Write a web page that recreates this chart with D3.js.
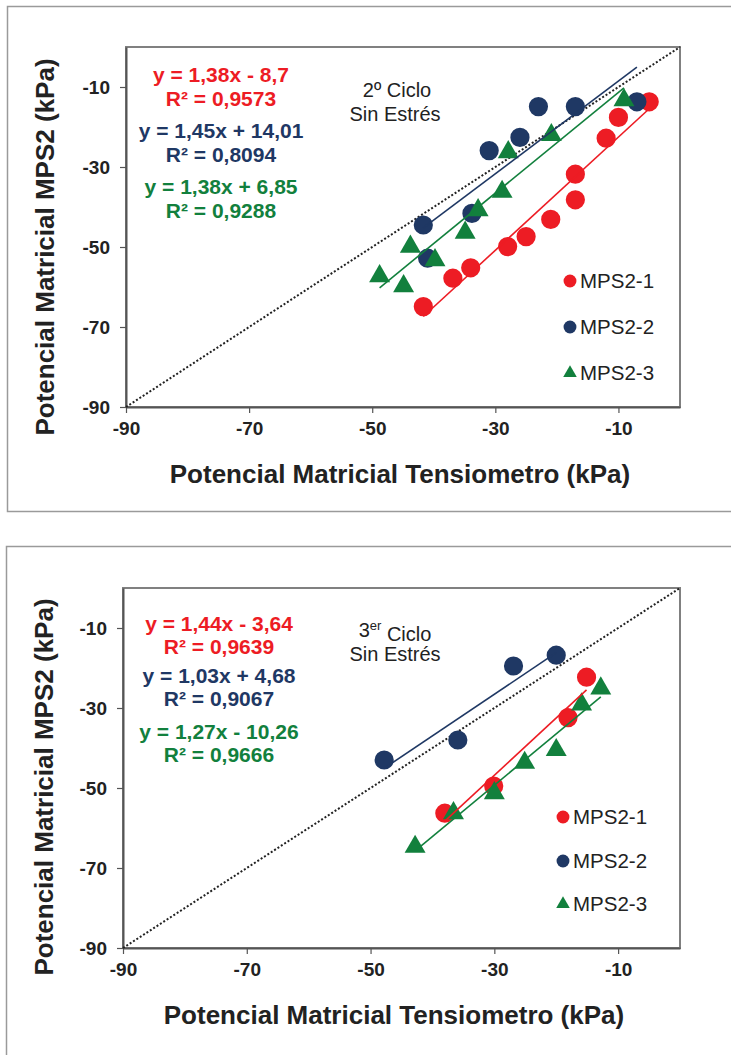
<!DOCTYPE html>
<html><head><meta charset="utf-8">
<script src="https://cdn.jsdelivr.net/npm/d3@7"></script>
<style>
body{margin:0;background:#fff;}
svg{display:block;font-family:"Liberation Sans",Arial,sans-serif;}
</style>
</head><body>
<svg id="chart" width="731" height="1055"></svg>
<script>
// ---------- data ----------
const axisTicks = [-90, -70, -50, -30, -10];
const seriesNames = ["MPS2-1", "MPS2-2", "MPS2-3"];
const seriesColors = ["#ed1c24", "#1f3864", "#12803d"];
const seriesShapes = ["circle", "circle", "triangle"];
const xTitle = "Potencial Matricial Tensiometro (kPa)";
const yTitle = "Potencial Matricial MPS2 (kPa)";

// 2º Ciclo Sin Estrés
const c2_x1 = [-5.0, -10.0, -12.0, -17.0, -17.0, -21.0, -25.0, -28.0, -34.0, -36.9, -41.7];
const c2_y1 = [-13.7, -17.6, -22.8, -31.8, -38.2, -43.1, -47.4, -49.9, -55.2, -57.8, -64.9];
const c2_x2 = [-7.0, -17.0, -23.0, -26.0, -31.0, -33.8, -41.7, -41.0];
const c2_y2 = [-13.7, -14.9, -14.9, -22.6, -25.9, -41.6, -44.5, -52.8];
const c2_x3 = [-9.1, -20.9, -27.9, -28.9, -32.8, -34.9, -43.8, -39.8, -48.8, -44.9];
const c2_y3 = [-13.3, -22.0, -26.3, -36.2, -40.8, -46.4, -49.9, -53.3, -57.3, -59.8];
const c2_eq = ["y = 1,38x - 8,7", "y = 1,45x + 14,01", "y = 1,38x + 6,85"];
const c2_r2 = ["R² = 0,9573", "R² = 0,8094", "R² = 0,9288"];
const c2_label = ["2º Ciclo", "", "Sin Estrés"];

// 3er Ciclo Sin Estrés
const c3_x1 = [-15.1, -18.1, -30.1, -38.0];
const c3_y1 = [-22.3, -32.4, -49.5, -56.3];
const c3_x2 = [-20.0, -26.9, -35.9, -47.8];
const c3_y2 = [-16.8, -19.5, -38.0, -43.0];
const c3_x3 = [-12.8, -15.9, -20.0, -25.1, -30.0, -36.6, -42.8];
const c3_y3 = [-25.1, -29.1, -40.5, -43.7, -51.3, -56.3, -64.7];
const c3_eq = ["y = 1,44x - 3,64", "y = 1,03x + 4,68", "y = 1,27x - 10,26"];
const c3_r2 = ["R² = 0,9639", "R² = 0,9067", "R² = 0,9666"];
const c3_label = ["3", "er", " Ciclo", "Sin Estrés"];

// ---------- drawing ----------
const svg = d3.select("#chart");

function linreg(xs, ys) {
  const mx = d3.mean(xs), my = d3.mean(ys);
  let sxy = 0, sxx = 0;
  xs.forEach((v, i) => { sxy += (v - mx) * (ys[i] - my); sxx += (v - mx) * (v - mx); });
  const m = sxy / sxx;
  return { m: m, b: my - m * mx };
}

function drawPanel(L, xsArr, ysArr, eqs, r2s, labelFn) {
  const g = svg.append("g");
  // outer frame
  g.append("rect").attr("x", L.fx).attr("y", L.fy).attr("width", L.fw).attr("height", L.fh)
    .attr("fill", "none").attr("stroke", "#9a9a9a").attr("stroke-width", 1.5);

  const x = d3.scaleLinear().domain([-90, 0]).range([L.x0, L.x1]);
  const y = d3.scaleLinear().domain([-90, 0]).range([L.y1, L.y0]);

  // plot border
  g.append("rect").attr("x", L.x0).attr("y", L.y0).attr("width", L.x1 - L.x0).attr("height", L.y1 - L.y0)
    .attr("fill", "none").attr("stroke", "#808080").attr("stroke-width", 2);

  const fmt = d => String(d);
  const xa = g.append("g").attr("transform", `translate(0,${L.y1})`)
    .call(d3.axisBottom(x).tickValues(axisTicks).tickSize(6).tickSizeOuter(0).tickPadding(9).tickFormat(fmt));
  const ya = g.append("g").attr("transform", `translate(${L.x0},0)`)
    .call(d3.axisLeft(y).tickValues(axisTicks).tickSize(6).tickSizeOuter(0).tickPadding(10).tickFormat(fmt));
  [xa, ya].forEach(a => {
    a.select(".domain").attr("stroke", "#555").attr("stroke-width", 2);
    a.selectAll(".tick line").attr("stroke", "#555").attr("stroke-width", 1.2);
    a.selectAll(".tick text").attr("font-size", 19).attr("font-weight", "bold").attr("fill", "#222")
      .attr("font-family", "Liberation Sans, Arial, sans-serif");
  });

  // titles
  g.append("text").attr("x", L.xtx).attr("y", L.xty).attr("text-anchor", "middle")
    .attr("font-size", 26).attr("font-weight", "bold").attr("fill", "#222").text(xTitle);
  g.append("text").attr("transform", `translate(${L.ytx},${L.yty}) rotate(-90)`).attr("text-anchor", "middle")
    .attr("dy", "0.35em").attr("font-size", 26).attr("font-weight", "bold").attr("fill", "#222").text(yTitle);

  // diagonal 1:1
  g.append("line").attr("x1", x(-90)).attr("y1", y(-90)).attr("x2", x(0)).attr("y2", y(0))
    .attr("stroke", "#222").attr("stroke-width", 2).attr("stroke-dasharray", "2,2");

  // markers
  const circleSym = d3.symbol().type(d3.symbolCircle).size(290);
  const triSym = d3.symbol().type(d3.symbolTriangle).size(190);
  xsArr.forEach((xs, s) => {
    const ys = ysArr[s];
    g.append("g").selectAll("path").data(xs.map((v, i) => [v, ys[i]])).join("path")
      .attr("transform", d => `translate(${x(d[0])},${y(d[1])})`)
      .attr("d", seriesShapes[s] === "circle" ? circleSym() : triSym())
      .attr("fill", seriesColors[s]);
  });

  // trendlines
  xsArr.forEach((xs, s) => {
    const ys = ysArr[s];
    const r = linreg(xs, ys);
    const [mn, mx] = d3.extent(xs);
    g.append("line").attr("x1", x(mn)).attr("y1", y(r.m * mn + r.b)).attr("x2", x(mx)).attr("y2", y(r.m * mx + r.b))
      .attr("stroke", seriesColors[s]).attr("stroke-width", 1.6);
  });

  // equations
  eqs.forEach((t, s) => {
    g.append("text").attr("x", L.eqx).attr("y", L.eqy[s]).attr("dy", "0.36em").attr("text-anchor", "middle")
      .attr("font-size", 21).attr("font-weight", "bold").attr("fill", seriesColors[s]).text(t);
    g.append("text").attr("x", L.eqx).attr("y", L.eqy[s] + L.r2dy).attr("dy", "0.36em").attr("text-anchor", "middle")
      .attr("font-size", 21).attr("font-weight", "bold").attr("fill", seriesColors[s]).text(r2s[s]);
  });

  // cycle label
  labelFn(g);

  // legend
  const lcs = d3.symbol().type(d3.symbolCircle).size(130);
  const lts = d3.symbol().type(d3.symbolTriangle).size(80);
  seriesNames.forEach((n, s) => {
    const ly = L.legY[s];
    g.append("path").attr("transform", `translate(${L.legX},${ly})`)
      .attr("d", seriesShapes[s] === "circle" ? lcs() : lts()).attr("fill", seriesColors[s]);
    g.append("text").attr("x", L.legX + 10).attr("y", ly).attr("dy", "0.36em")
      .attr("font-size", 20.5).attr("fill", "#222").text(n);
  });
}

drawPanel({
  fx: 7.5, fy: 6.5, fw: 760, fh: 505,
  x0: 126, x1: 680, y0: 47, y1: 407,
  xtx: 400, xty: 483, ytx: 45, yty: 247,
  eqx: 221, eqy: [74, 130, 186], r2dy: 24,
  legX: 570, legY: [281, 327, 373]
}, [c2_x1, c2_x2, c2_x3], [c2_y1, c2_y2, c2_y3], c2_eq, c2_r2, g => {
  g.append("text").attr("x", 397).attr("y", 90).attr("dy", "0.36em").attr("text-anchor", "middle")
    .attr("font-size", 20).attr("fill", "#222").text(c2_label[0]);
  g.append("text").attr("x", 395).attr("y", 114).attr("dy", "0.36em").attr("text-anchor", "middle")
    .attr("font-size", 20).attr("fill", "#222").text(c2_label[2]);
});

drawPanel({
  fx: 6.5, fy: 546.5, fw: 760, fh: 540,
  x0: 123, x1: 680, y0: 588, y1: 948,
  xtx: 394, xty: 1024, ytx: 44, yty: 787,
  eqx: 219, eqy: [623, 675, 731], r2dy: 23,
  legX: 563, legY: [817, 861, 904]
}, [c3_x1, c3_x2, c3_x3], [c3_y1, c3_y2, c3_y3], c3_eq, c3_r2, g => {
  const t = g.append("text").attr("x", 395).attr("y", 630).attr("dy", "0.36em").attr("text-anchor", "middle")
    .attr("font-size", 20).attr("fill", "#222");
  t.append("tspan").text(c3_label[0]);
  t.append("tspan").attr("font-size", 13).attr("dy", "-0.55em").text(c3_label[1]);
  t.append("tspan").attr("dy", "0.55em").attr("font-size", 20).text(c3_label[2]);
  g.append("text").attr("x", 395).attr("y", 654).attr("dy", "0.36em").attr("text-anchor", "middle")
    .attr("font-size", 20).attr("fill", "#222").text(c3_label[3]);
});
</script>
</body></html>
